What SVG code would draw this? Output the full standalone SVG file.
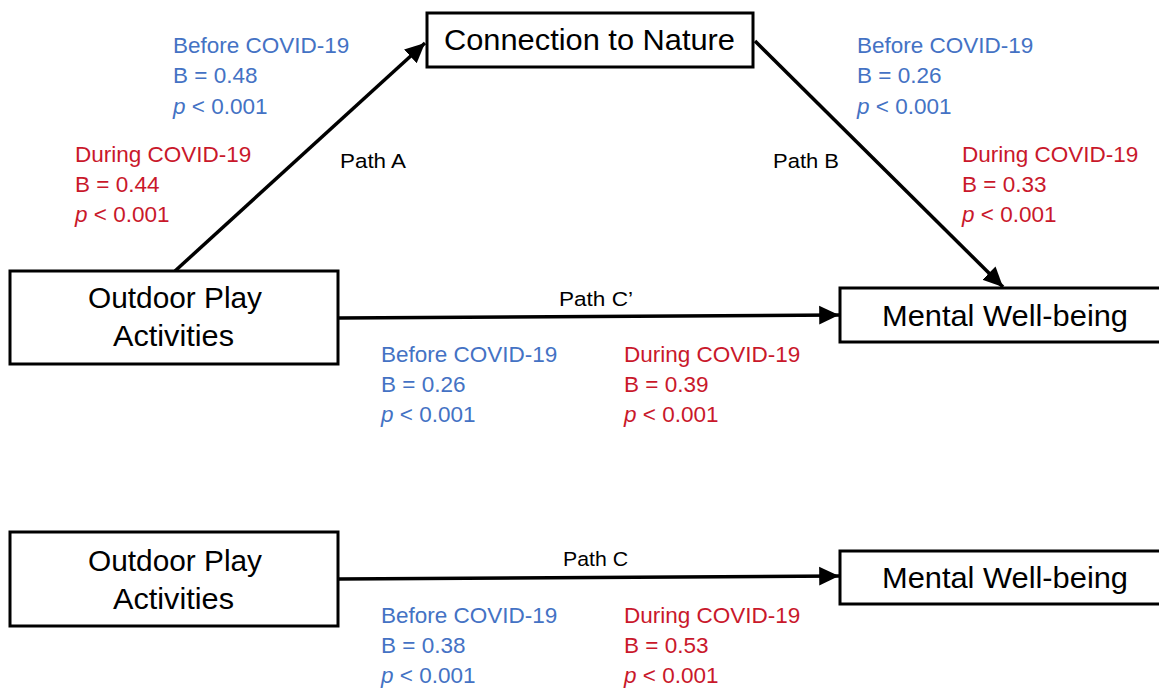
<svg xmlns="http://www.w3.org/2000/svg" width="1159" height="688" viewBox="0 0 1159 688">
<style>
.box{fill:#fff;stroke:#000;stroke-width:3}
.nt{font-family:"Liberation Sans",Arial,sans-serif;font-size:29px;fill:#000}
.pl{font-family:"Liberation Sans",Arial,sans-serif;font-size:20.5px;fill:#000}
.st{font-family:"Liberation Sans",Arial,sans-serif;font-size:22.5px}
.bl{fill:#4472C4}
.rd{fill:#C9182B}
.conn{stroke:#000;stroke-width:3.5;fill:none}
</style>
<defs>
<marker id="ah" markerUnits="userSpaceOnUse" markerWidth="22" markerHeight="22" viewBox="0 0 20 20" refX="18" refY="10" orient="auto">
<path d="M0,1.5 L18,10 L0,18.5 Z" fill="#000"/>
</marker>
</defs>
<rect width="1159" height="688" fill="#fff"/>
<g id="connectors">
<line class="conn" x1="175" y1="271" x2="425" y2="43" marker-end="url(#ah)"/>
<line class="conn" x1="755" y1="41" x2="1003" y2="287" marker-end="url(#ah)"/>
<line class="conn" x1="338" y1="318" x2="839" y2="315" marker-end="url(#ah)"/>
<line class="conn" x1="338" y1="579" x2="839" y2="576" marker-end="url(#ah)"/>
</g>
<g id="node-nature">
<rect class="box" x="427" y="13" width="326" height="54"/>
<text class="nt" x="444" y="50" textLength="291" lengthAdjust="spacingAndGlyphs">Connection to Nature</text>
</g>
<g id="node-outdoor-top">
<rect class="box" x="10" y="271" width="328" height="93"/>
<text class="nt" x="88" y="308" textLength="174" lengthAdjust="spacingAndGlyphs">Outdoor Play</text>
<text class="nt" x="113" y="346" textLength="121" lengthAdjust="spacingAndGlyphs">Activities</text>
</g>
<g id="node-wellbeing-top">
<rect class="box" x="840" y="288" width="330" height="54"/>
<text class="nt" x="882" y="326" textLength="246" lengthAdjust="spacingAndGlyphs">Mental Well-being</text>
</g>
<g id="node-outdoor-bottom">
<rect class="box" x="10" y="532" width="328" height="94"/>
<text class="nt" x="88" y="571" textLength="174" lengthAdjust="spacingAndGlyphs">Outdoor Play</text>
<text class="nt" x="113" y="609" textLength="121" lengthAdjust="spacingAndGlyphs">Activities</text>
</g>
<g id="node-wellbeing-bottom">
<rect class="box" x="840" y="551" width="330" height="53"/>
<text class="nt" x="882" y="588" textLength="246" lengthAdjust="spacingAndGlyphs">Mental Well-being</text>
</g>
<g id="labels">
<text class="pl" x="340" y="168" textLength="66" lengthAdjust="spacingAndGlyphs">Path A</text>
<text class="pl" x="773" y="168" textLength="66" lengthAdjust="spacingAndGlyphs">Path B</text>
<text class="pl" x="559" y="306" textLength="74" lengthAdjust="spacingAndGlyphs">Path C’</text>
<text class="pl" x="563" y="566" textLength="65" lengthAdjust="spacingAndGlyphs">Path C</text>

<text class="st bl" x="173" y="53">Before COVID-19</text>
<text class="st bl" x="173" y="83">B = 0.48</text>
<text class="st bl" x="173" y="114"><tspan font-style="italic">p</tspan> &lt; 0.001</text>

<text class="st rd" x="75" y="162">During COVID-19</text>
<text class="st rd" x="75" y="192">B = 0.44</text>
<text class="st rd" x="75" y="222"><tspan font-style="italic">p</tspan> &lt; 0.001</text>

<text class="st bl" x="857" y="53">Before COVID-19</text>
<text class="st bl" x="857" y="83">B = 0.26</text>
<text class="st bl" x="857" y="114"><tspan font-style="italic">p</tspan> &lt; 0.001</text>

<text class="st rd" x="962" y="162">During COVID-19</text>
<text class="st rd" x="962" y="192">B = 0.33</text>
<text class="st rd" x="962" y="222"><tspan font-style="italic">p</tspan> &lt; 0.001</text>

<text class="st bl" x="381" y="362">Before COVID-19</text>
<text class="st bl" x="381" y="392">B = 0.26</text>
<text class="st bl" x="381" y="422"><tspan font-style="italic">p</tspan> &lt; 0.001</text>

<text class="st rd" x="624" y="362">During COVID-19</text>
<text class="st rd" x="624" y="392">B = 0.39</text>
<text class="st rd" x="624" y="422"><tspan font-style="italic">p</tspan> &lt; 0.001</text>

<text class="st bl" x="381" y="623">Before COVID-19</text>
<text class="st bl" x="381" y="653">B = 0.38</text>
<text class="st bl" x="381" y="683"><tspan font-style="italic">p</tspan> &lt; 0.001</text>

<text class="st rd" x="624" y="623">During COVID-19</text>
<text class="st rd" x="624" y="653">B = 0.53</text>
<text class="st rd" x="624" y="683"><tspan font-style="italic">p</tspan> &lt; 0.001</text>
</g>
</svg>
